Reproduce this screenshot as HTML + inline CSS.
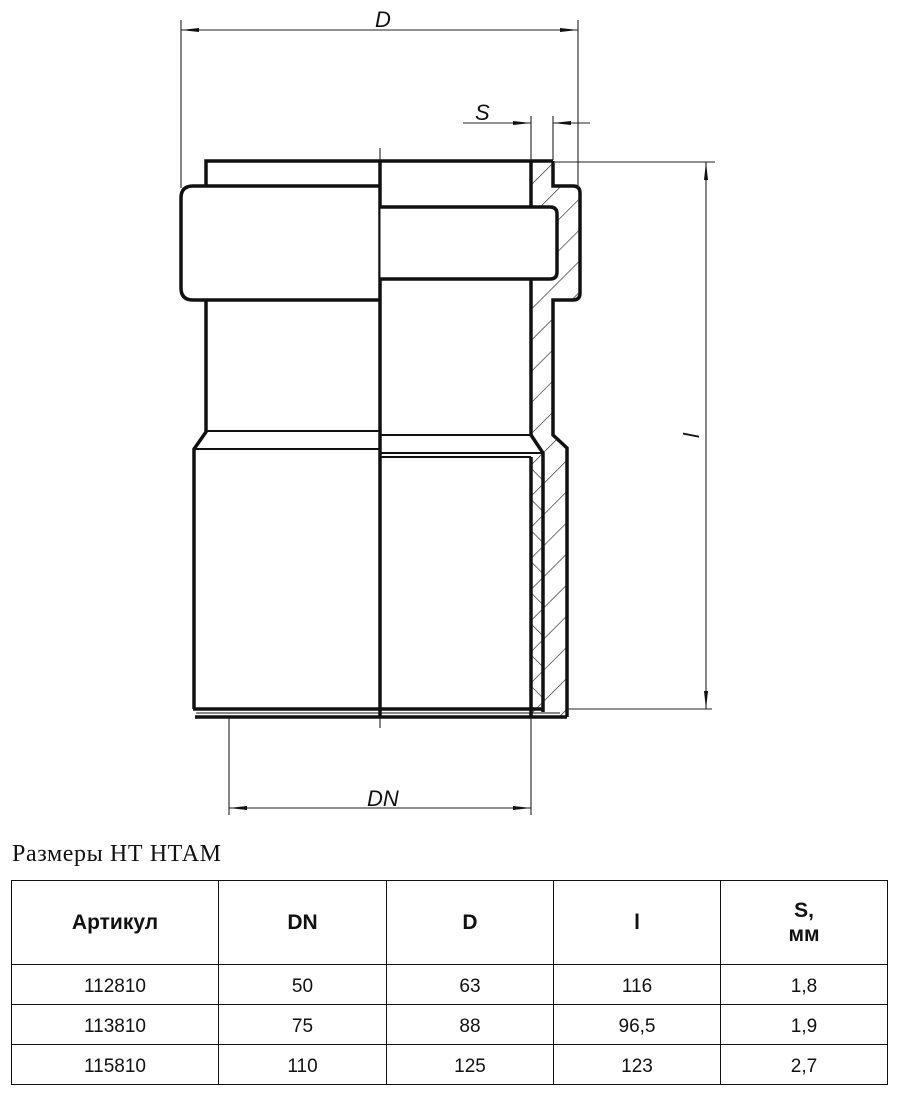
<!DOCTYPE html>
<html><head><meta charset="utf-8"><style>
html,body{margin:0;padding:0;background:#fff;width:900px;height:1097px;overflow:hidden;position:relative}
svg{position:absolute;left:0;top:0}
.t{position:absolute;left:11px;top:880px;border-collapse:collapse;font-family:"Liberation Sans","DejaVu Sans",sans-serif;font-size:19px;color:#111}
.t td{border:1.5px solid #111;text-align:center;padding:0}
.t tr.h td{height:84px;font-weight:bold;font-size:21px;box-sizing:border-box}
.t tr.r td{height:40px;padding-top:4px;box-sizing:border-box}
.cap{position:absolute;left:12px;top:841px;font-family:"Liberation Serif",serif;font-size:24px;letter-spacing:0.6px;color:#111}
</style></head><body>
<svg width="900" height="840" viewBox="0 0 900 840">
<defs>
<pattern id="h1" patternUnits="userSpaceOnUse" width="22" height="22" patternTransform="rotate(45)">
<line x1="0" y1="0" x2="0" y2="22" stroke="#222" stroke-width="1.3"/></pattern>
<pattern id="h2" patternUnits="userSpaceOnUse" width="22" height="22" patternTransform="rotate(-45)">
<line x1="0" y1="0" x2="0" y2="22" stroke="#222" stroke-width="1.3"/></pattern>
<marker id="a" markerWidth="18" markerHeight="6" refX="18" refY="3" orient="auto" markerUnits="userSpaceOnUse">
<path d="M0,1 L18,3 L0,5 z" fill="#111"/></marker>
</defs>
<path d="M531,161 H553 V186 H573 Q580,186 580,193 V293 Q580,300 573,300 H553 V435 L567,448 V717 H531 Z" fill="url(#h1)"/>
<rect x="531" y="457" width="12" height="255" fill="#fff"/>
<rect x="531" y="457" width="12" height="255" fill="url(#h1)"/>
<rect x="531" y="457" width="12" height="255" fill="url(#h2)"/>
<g fill="none" stroke="#111" stroke-width="3.5">
<path d="M206,186 V161 H553"/>
<path d="M206,300 V432 L194,449 V709"/>
<path d="M380,186 H193 Q181,186 181,198 V288 Q181,300 193,300 H380" fill="#fff"/>
<line x1="380" y1="161" x2="380" y2="718"/>
<line x1="531" y1="161" x2="531" y2="435"/>
<path d="M553,161 V186 H573 Q580,186 580,193 V293 Q580,300 573,300 H553 V435 L567,448 V717"/>
<path d="M531,435 L543,453 V712"/>
<line x1="531" y1="457" x2="531" y2="717"/>
<path d="M380,207 H550 Q557,207 557,214 V272 Q557,279 550,279 H380" fill="#fff"/>
<line x1="193" y1="709" x2="543" y2="709"/>
<line x1="195" y1="717" x2="567" y2="717"/>
</g>
<g stroke="#111" stroke-width="2" fill="none">
<line x1="206" y1="431" x2="380" y2="431"/>
<line x1="194" y1="449" x2="380" y2="449"/>
<line x1="380" y1="435" x2="531" y2="435"/>
<line x1="380" y1="453" x2="543" y2="453"/>
<line x1="380" y1="457" x2="531" y2="457"/>
</g>
<line x1="196" y1="713" x2="560" y2="713" stroke="#111" stroke-width="1"/>
<line x1="380" y1="148" x2="380" y2="728" stroke="#111" stroke-width="1"/>
<g stroke="#222" stroke-width="1.1" fill="none">
<line x1="181" y1="20" x2="181" y2="188"/>
<line x1="578" y1="20" x2="578" y2="188"/>
<line x1="380" y1="30" x2="181" y2="30" marker-end="url(#a)"/>
<line x1="380" y1="30" x2="578" y2="30" marker-end="url(#a)"/>
<line x1="531" y1="116" x2="531" y2="160"/>
<line x1="553" y1="116" x2="553" y2="160"/>
<line x1="463" y1="123" x2="531" y2="123" marker-end="url(#a)"/>
<line x1="590" y1="123" x2="553" y2="123" marker-end="url(#a)"/>
<line x1="555" y1="162" x2="715" y2="162"/>
<line x1="567" y1="709" x2="712" y2="709"/>
<line x1="706" y1="430" x2="706" y2="162" marker-end="url(#a)"/>
<line x1="706" y1="430" x2="706" y2="709" marker-end="url(#a)"/>
<line x1="229" y1="718" x2="229" y2="815"/>
<line x1="531" y1="718" x2="531" y2="815"/>
<line x1="380" y1="808" x2="229" y2="808" marker-end="url(#a)"/>
<line x1="380" y1="808" x2="531" y2="808" marker-end="url(#a)"/>
</g>
<g font-family="Liberation Sans, sans-serif" font-style="italic" font-size="22" fill="#111">
<text x="375" y="27">D</text>
<text x="475" y="120">S</text>
<text x="367" y="806">DN</text>
<text x="0" y="0" transform="translate(699,438) rotate(-90)">l</text>
</g>
</svg>
<div class="cap">Размеры НТ НТАМ</div>
<table class="t">
<colgroup><col style="width:207px"><col style="width:168px"><col style="width:167px"><col style="width:167px"><col style="width:167px"></colgroup>
<tr class="h"><td>Артикул</td><td>DN</td><td>D</td><td>l</td><td>S,<br>мм</td></tr>
<tr class="r"><td>112810</td><td>50</td><td>63</td><td>116</td><td>1,8</td></tr>
<tr class="r"><td>113810</td><td>75</td><td>88</td><td>96,5</td><td>1,9</td></tr>
<tr class="r"><td>115810</td><td>110</td><td>125</td><td>123</td><td>2,7</td></tr>
</table>
</body></html>
